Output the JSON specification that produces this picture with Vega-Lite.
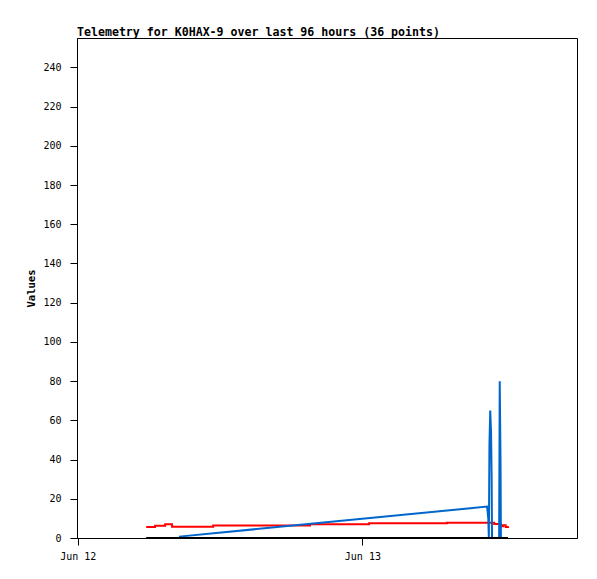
{
  "$schema": "https://vega.github.io/schema/vega-lite/v6.json",
  "width": 500,
  "height": 500,
  "autosize": {"type": "none"},
  "padding": {"left": 77, "top": 38, "right": 20, "bottom": 41},
  "background": "white",
  "title": {
    "text": "Telemetry for K0HAX-9 over last 96 hours (36 points)",
    "anchor": "start",
    "frame": "group",
    "font": "DejaVu Sans Mono",
    "fontSize": 11.6,
    "fontWeight": "bold",
    "color": "black",
    "offset": -1
  },
  "config": {
    "view": {"stroke": "black", "strokeWidth": 1},
    "axis": {
      "domainColor": "black",
      "tickColor": "black",
      "tickSize": 7,
      "grid": false,
      "labelFont": "DejaVu Sans Mono",
      "labelFontSize": 10,
      "labelColor": "black",
      "titleFont": "DejaVu Sans Mono",
      "titleFontSize": 10.5,
      "titleFontWeight": "bold",
      "titleColor": "black"
    }
  },
  "datasets": {
    "telemetry": [
      {"t": "2024-06-12T05:46:00", "series": "red", "v": 5.6},
      {"t": "2024-06-12T06:31:00", "series": "red", "v": 6.3},
      {"t": "2024-06-12T07:22:00", "series": "red", "v": 7.0},
      {"t": "2024-06-12T07:57:00", "series": "red", "v": 5.8},
      {"t": "2024-06-12T11:25:00", "series": "red", "v": 6.4},
      {"t": "2024-06-12T19:35:00", "series": "red", "v": 7.0},
      {"t": "2024-06-13T00:34:00", "series": "red", "v": 7.5},
      {"t": "2024-06-13T07:08:00", "series": "red", "v": 7.8},
      {"t": "2024-06-13T11:07:00", "series": "red", "v": 7.2},
      {"t": "2024-06-13T11:40:00", "series": "red", "v": 6.0},
      {"t": "2024-06-13T11:52:00", "series": "red", "v": 6.5},
      {"t": "2024-06-13T12:05:00", "series": "red", "v": 5.6},
      {"t": "2024-06-13T12:17:00", "series": "red", "v": 6.0},
      {"t": "2024-06-12T08:32:00", "series": "blue", "v": 0.7},
      {"t": "2024-06-13T10:31:00", "series": "blue", "v": 16},
      {"t": "2024-06-13T10:35:00", "series": "blue", "v": 12},
      {"t": "2024-06-13T10:37:00", "series": "blue", "v": 10},
      {"t": "2024-06-13T10:40:00", "series": "blue", "v": 0},
      {"t": "2024-06-13T10:43:00", "series": "blue", "v": 48},
      {"t": "2024-06-13T10:47:00", "series": "blue", "v": 65},
      {"t": "2024-06-13T10:51:00", "series": "blue", "v": 54},
      {"t": "2024-06-13T10:54:00", "series": "blue", "v": 32},
      {"t": "2024-06-13T10:56:00", "series": "blue", "v": 0},
      {"t": "2024-06-13T11:32:00", "series": "blue", "v": 0},
      {"t": "2024-06-13T11:35:00", "series": "blue", "v": 80},
      {"t": "2024-06-13T11:39:00", "series": "blue", "v": 40},
      {"t": "2024-06-13T11:41:00", "series": "blue", "v": 0},
      {"t": "2024-06-13T12:17:00", "series": "blue", "v": 0},
      {"t": "2024-06-12T05:46:00", "series": "black", "v": 0},
      {"t": "2024-06-13T12:17:00", "series": "black", "v": 0}
    ]
  },
  "data": {"name": "telemetry"},
  "encoding": {
    "x": {
      "field": "t",
      "type": "temporal",
      "scale": {"domain": ["2024-06-11T23:56:00", "2024-06-13T18:06:00"]},
      "axis": {
        "title": null,
        "values": [
          {"year": 2024, "month": 6, "date": 12},
          {"year": 2024, "month": 6, "date": 13}
        ],
        "format": "%b %d",
        "labelPadding": 6,
        "labelFlush": false
      }
    },
    "y": {
      "field": "v",
      "type": "quantitative",
      "scale": {"domain": [0, 255], "nice": false},
      "axis": {
        "title": "Values",
        "values": [0, 20, 40, 60, 80, 100, 120, 140, 160, 180, 200, 220, 240],
        "labelPadding": 9,
        "titlePadding": 6
      }
    }
  },
  "layer": [
    {
      "transform": [{"filter": "datum.series === 'red'"}],
      "mark": {"type": "line", "color": "#ff0000", "strokeWidth": 2, "interpolate": "step-after"}
    },
    {
      "transform": [{"filter": "datum.series === 'blue'"}],
      "mark": {"type": "line", "color": "#0066cc", "strokeWidth": 2}
    },
    {
      "transform": [{"filter": "datum.series === 'black'"}],
      "mark": {"type": "line", "color": "#000000", "strokeWidth": 2}
    }
  ]
}
